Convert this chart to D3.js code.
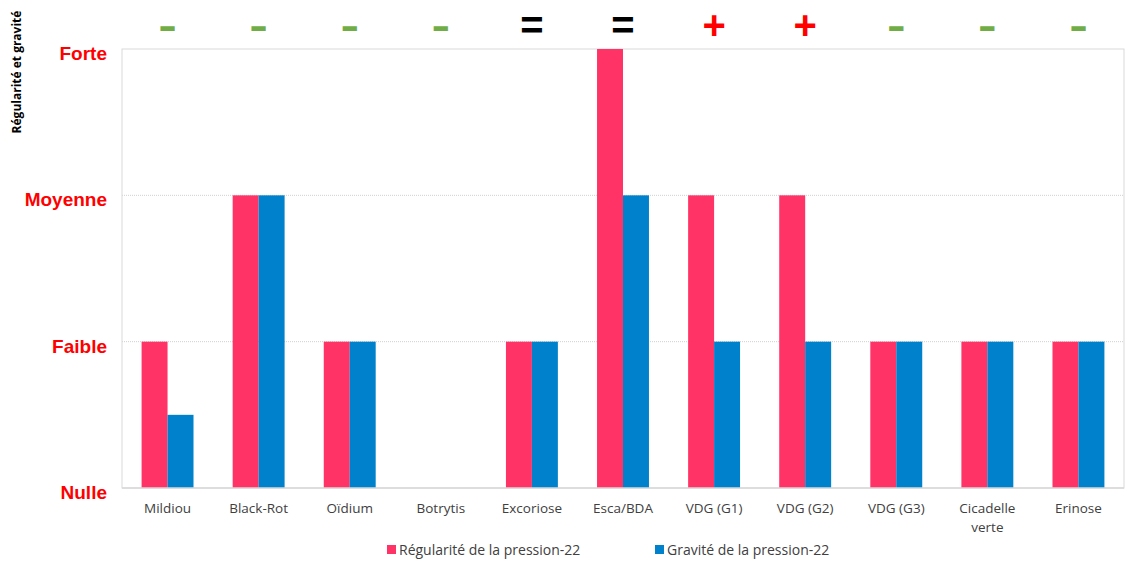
<!DOCTYPE html>
<html><head><meta charset="utf-8">
<script src="https://cdn.jsdelivr.net/npm/d3@7/dist/d3.min.js"></script>
<style>body{margin:0;background:#fff;}svg{display:block;}</style>
</head><body><svg id="c" width="1130" height="561"></svg>
<script>
const categories = ["Mildiou","Black-Rot","Oïdium","Botrytis","Excoriose","Esca/BDA","VDG (G1)","VDG (G2)","VDG (G3)","Cicadelle verte","Erinose"];
const regularite = [1,2,1,0,1,3,2,2,1,1,1];
const gravite = [0.5,2,1,0,1,2,1,1,1,1,1];
const trends = ["-","-","-","-","=","=","+","+","-","-","-"];
const levelLabels = ["Nulle","Faible","Moyenne","Forte"];
const seriesNames = ["Régularité de la pression-22","Gravité de la pression-22"];
const colors = ["#FF3366","#0081CC"];

const svg = d3.select("#c");
const L=122, R=1124, T=49, B=488;
const x0 = d3.scaleBand().domain(categories).range([L,R]).paddingInner(0.43).paddingOuter(0.215);
const x1 = d3.scaleBand().domain([0,1]).range([0,x0.bandwidth()]);
const y = d3.scaleLinear().domain([0,3]).range([B,T]);

// gridlines
svg.append("g").selectAll("line").data([1,2]).join("line")
  .attr("x1",L).attr("x2",R).attr("y1",d=>y(d)).attr("y2",d=>y(d))
  .attr("stroke","#D0D0D0").attr("stroke-dasharray","1,1");
// border
svg.append("rect").attr("x",L).attr("y",T).attr("width",R-L).attr("height",B-T)
  .attr("fill","none").attr("stroke","#D9D9D9").attr("stroke-width",1);

// bars
const series=[regularite,gravite];
const g = svg.append("g");
series.forEach((vals,si)=>{
  g.selectAll(null).data(vals).join("rect")
    .attr("x",(d,i)=>x0(categories[i])+x1(si))
    .attr("y",d=>y(d)).attr("width",x1.bandwidth()).attr("height",d=>B-y(d))
    .attr("fill",colors[si]);
});
// bottom axis line
svg.append("line").attr("x1",L).attr("x2",R).attr("y1",B).attr("y2",B).attr("stroke","#D9D9D9").attr("stroke-width",1.5);

// y axis labels
const yAxis = d3.axisLeft(y).tickValues([0,1,2,3]).tickFormat(d=>levelLabels[d]).tickSize(0).tickPadding(15);
const ya = svg.append("g").attr("transform",`translate(${L},0)`).call(yAxis);
ya.select(".domain").remove();
ya.selectAll("text").attr("fill","#FF0000").attr("font-family","Liberation Sans, Arial, sans-serif")
  .attr("font-weight","bold").attr("font-size",19).attr("dy","0.55em");

// x axis labels
const xAxis = d3.axisBottom(x0).tickSize(0).tickPadding(0).tickFormat("");
const xa = svg.append("g").attr("transform",`translate(0,${B})`).call(xAxis);
xa.select(".domain").remove();
xa.selectAll(".tick").each(function(d){
  const words = d==="Cicadelle verte" ? ["Cicadelle","verte"] : [d];
  const t = d3.select(this).append("text").attr("fill","#404040")
    .attr("font-family","Open Sans, sans-serif").attr("font-size",13.5).attr("text-anchor","middle");
  words.forEach((w,i)=>t.append("tspan").attr("x",0).attr("y",25+i*19).text(w));
});

// y title
svg.append("text").attr("transform","translate(21,72) rotate(-90)").attr("text-anchor","middle")
  .attr("font-family","Open Sans, sans-serif").attr("font-weight","bold").attr("font-size",12)
  .attr("fill","#000").text("Régularité et gravité");

// trend symbols
svg.append("g").selectAll("text").data(trends).join("text")
  .attr("transform",(d,i)=>`translate(${x0(categories[i])+x0.bandwidth()/2},39)` + (d==="-"?" scale(1.4,1)":""))
  .attr("text-anchor","middle")
  .attr("font-family","Liberation Sans, Arial, sans-serif").attr("font-weight","bold")
  .attr("font-size",40)
  .attr("fill",d=>d==="-"?"#70AD47":(d==="+"?"#FF0000":"#000"))
  .text(d=>d);

// legend
const leg = svg.append("g").attr("font-family","Open Sans, sans-serif").attr("font-size",14).attr("fill","#404040");
const legX=[387,655];
seriesNames.forEach((n,i)=>{
  leg.append("rect").attr("x",legX[i]).attr("y",545).attr("width",9).attr("height",9).attr("fill",colors[i]);
  leg.append("text").attr("x",legX[i]+12).attr("y",555).attr("fill","#404040").text(n);
});
</script></body></html>
